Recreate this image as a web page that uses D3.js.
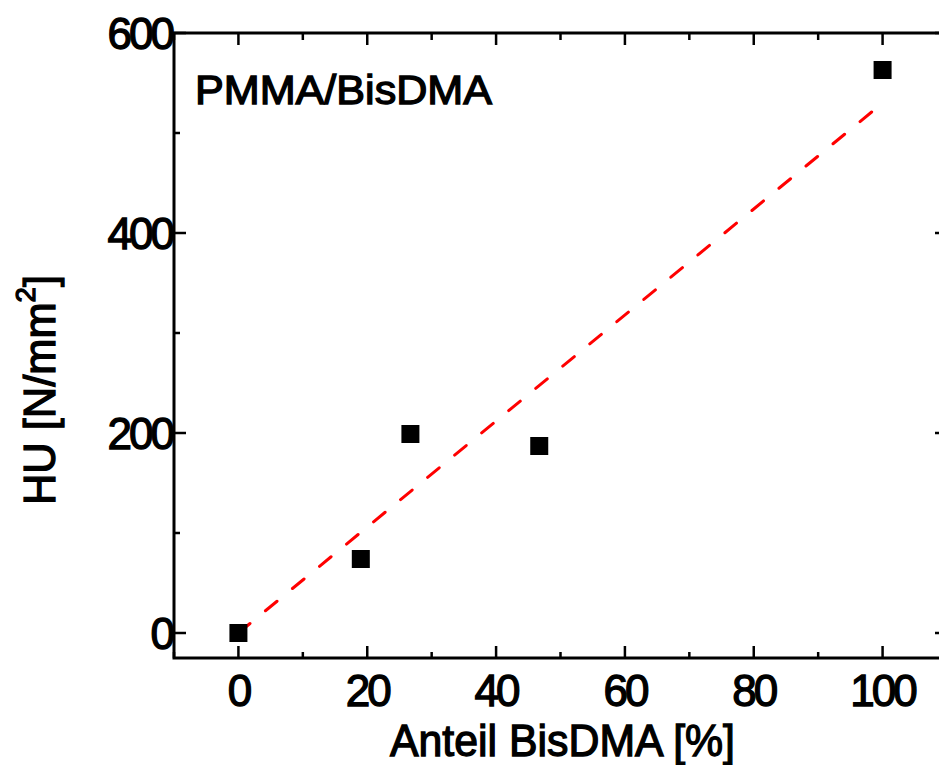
<!DOCTYPE html>
<html><head><meta charset="utf-8">
<script src="https://cdn.jsdelivr.net/npm/d3@7"></script>
<style>body{margin:0;background:#fff}svg{display:block}text{font-family:"Liberation Sans",Arial,sans-serif;stroke:#000;stroke-width:1.3px;fill:#000}</style>
</head><body>
<script>
const xValues = [0, 19, 26.7, 46.7, 100];
const yValues = [0, 74, 199, 187, 563];
const fitX = [0, 100];
const fitY = [0, 530];
const xTicks = [0, 20, 40, 60, 80, 100];
const yTicks = [0, 200, 400, 600];
const xMinor = [-10, 10, 30, 50, 70, 90, 110];
const yMinor = [100, 300, 500];

const W = 939, H = 765;
const svg = d3.select("body").append("svg").attr("width", W).attr("height", H);
const x = d3.scaleLinear().domain([-10, 110]).range([174, 947]);
const y = d3.scaleLinear().domain([-25, 600]).range([658, 33]);
const L = 174, R = 947, T = 33, B = 658;

// frame
svg.append("rect").attr("x", L).attr("y", T).attr("width", R - L).attr("height", B - T)
  .attr("fill", "none").attr("stroke", "#000").attr("stroke-width", 3);

const tk = svg.append("g").attr("stroke", "#000").attr("stroke-width", 2.5);
xTicks.forEach(v => {
  tk.append("line").attr("x1", x(v)).attr("x2", x(v)).attr("y1", B).attr("y2", B - 12);
  tk.append("line").attr("x1", x(v)).attr("x2", x(v)).attr("y1", T).attr("y2", T + 12);
});
xMinor.forEach(v => {
  tk.append("line").attr("x1", x(v)).attr("x2", x(v)).attr("y1", B).attr("y2", B - 6);
  tk.append("line").attr("x1", x(v)).attr("x2", x(v)).attr("y1", T).attr("y2", T + 7);
});
yTicks.forEach(v => {
  tk.append("line").attr("y1", y(v)).attr("y2", y(v)).attr("x1", L).attr("x2", L + 12);
  tk.append("line").attr("y1", y(v)).attr("y2", y(v)).attr("x1", R).attr("x2", R - 12);
});
yMinor.forEach(v => {
  tk.append("line").attr("y1", y(v)).attr("y2", y(v)).attr("x1", L).attr("x2", L + 6);
  tk.append("line").attr("y1", y(v)).attr("y2", y(v)).attr("x1", R).attr("x2", R - 6);
});

// tick labels
xTicks.forEach(v => {
  svg.append("text").attr("x", x(v)).attr("y", 706).attr("text-anchor", "middle")
    .attr("font-size", 44).attr("letter-spacing", -3).text(v);
});
yTicks.forEach(v => {
  svg.append("text").attr("x", 172).attr("y", y(v) + 16).attr("text-anchor", "end")
    .attr("font-size", 44).attr("letter-spacing", -3).text(v);
});

// fit line
svg.append("line").attr("x1", x(fitX[0])).attr("y1", y(fitY[0])).attr("x2", x(fitX[1])).attr("y2", y(fitY[1]))
  .attr("stroke", "#ff0000").attr("stroke-width", 3).attr("stroke-dasharray", "15,20").attr("stroke-linecap", "round");

// points
svg.append("g").selectAll("rect").data(xValues).join("rect")
  .attr("x", (d, i) => x(d) - 9).attr("y", (d, i) => y(yValues[i]) - 9)
  .attr("width", 18).attr("height", 18).attr("fill", "#000");

// labels
svg.append("text").attr("x", 195).attr("y", 104).attr("font-size", 40)
  .attr("textLength", 297).attr("lengthAdjust", "spacingAndGlyphs").text("PMMA/BisDMA");
svg.append("text").attr("x", 390).attr("y", 756).attr("font-size", 44)
  .attr("textLength", 345).attr("lengthAdjust", "spacingAndGlyphs").text("Anteil BisDMA [%]");
const yt = svg.append("text").attr("transform", "translate(55,505) rotate(-90)")
  .attr("font-size", 44).attr("textLength", 230).attr("lengthAdjust", "spacingAndGlyphs");
yt.append("tspan").text("HU [N/mm");
yt.append("tspan").attr("font-size", 28).attr("dy", -20).text("2");
yt.append("tspan").attr("dy", 20).text("]");
</script>
</body></html>
